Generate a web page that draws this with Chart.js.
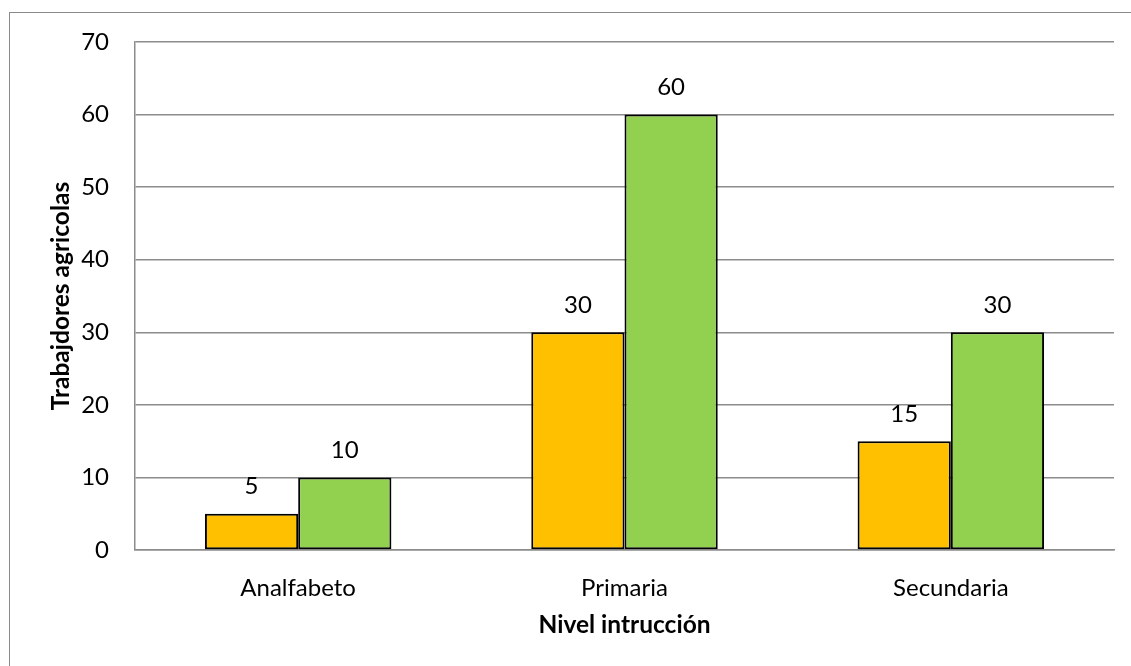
<!DOCTYPE html>
<html>
<head>
<meta charset="utf-8">
<script src="https://cdn.jsdelivr.net/npm/chart.js@4.4.0/dist/chart.umd.min.js"></script>
<style>
  html, body { margin: 0; padding: 0; background: #fff; overflow: hidden; }
  #frame {
    position: absolute; left: 9px; top: 12px;
    width: 1300px; height: 800px;
    border: 1.5px solid #8a8a8a;
  }
  #caseChart { position: absolute; left: 0; top: 0; }
</style>
</head>
<body>
<div id="frame"></div>
<canvas id="caseChart" width="1131" height="666"></canvas>
<script>
// datos del gráfico
const categories = ['Analfabeto', 'Primaria', 'Secundaria'];
const serie1 = [5, 30, 15];
const serie2 = [10, 60, 30];
const yTicks = [0, 10, 20, 30, 40, 50, 60, 70];

const FONT = 'Lato, Calibri, Carlito, sans-serif';
const GRID = '#8c8c8c';

// etiquetas encima de cada barra
const barLabels = {
  id: 'barLabels',
  afterDatasetsDraw(chart) {
    const ctx = chart.ctx;
    ctx.save();
    ctx.font = '24px ' + FONT;
    ctx.fillStyle = '#000';
    ctx.textAlign = 'center';
    ctx.textBaseline = 'middle';
    chart.data.datasets.forEach(function(ds, i) {
      chart.getDatasetMeta(i).data.forEach(function(bar, j) {
        ctx.fillText(String(ds.data[j]), bar.x, bar.y - 27);
      });
    });
    ctx.restore();
  }
};

const ctx = document.getElementById('caseChart').getContext('2d');
const myChart = new Chart(ctx, {
  type: 'bar',
  data: {
    labels: categories,
    datasets: [{
      data: serie1,
      backgroundColor: '#FFC000',
      borderColor: '#000',
      borderWidth: 2,
      borderSkipped: false,
      categoryPercentage: 2 / 3.5,
      barPercentage: 1
    }, {
      data: serie2,
      backgroundColor: '#92D050',
      borderColor: '#000',
      borderWidth: 2,
      borderSkipped: false,
      categoryPercentage: 2 / 3.5,
      barPercentage: 1
    }]
  },
  options: {
    responsive: false,
    animation: false,
    layout: {
      padding: { left: 0, top: 42, right: 17, bottom: 0 }
    },
    plugins: {
      legend: { display: false },
      tooltip: { enabled: false }
    },
    scales: {
      x: {
        grid: { display: false, drawTicks: false },
        border: { display: true, color: GRID, width: 1.5 },
        ticks: {
          color: '#000',
          padding: 24,
          font: { family: FONT, size: 24 }
        },
        title: {
          display: true,
          text: 'Nivel intrucción',
          color: '#000',
          font: { family: FONT, size: 24.5, weight: 'bold' },
          padding: { top: 0, bottom: 26 }
        },
        afterFit: function(scale) { scale.height = 116; }
      },
      y: {
        min: 0,
        max: 70,
        afterBuildTicks: function(scale) {
          scale.ticks = yTicks.map(function(v) { return { value: v }; });
        },
        grid: { color: GRID, lineWidth: 1.5, drawTicks: false },
        border: { display: true, color: GRID, width: 1.5 },
        ticks: {
          color: '#000',
          padding: 26,
          font: { family: FONT, size: 24 }
        },
        title: {
          display: true,
          text: 'Trabajdores agricolas',
          color: '#000',
          font: { family: FONT, size: 24.5, weight: 'bold' },
          padding: { top: 46, bottom: 0 }
        },
        afterFit: function(scale) { scale.width = 135; }
      }
    }
  },
  plugins: [barLabels]
});
</script>
</body>
</html>
